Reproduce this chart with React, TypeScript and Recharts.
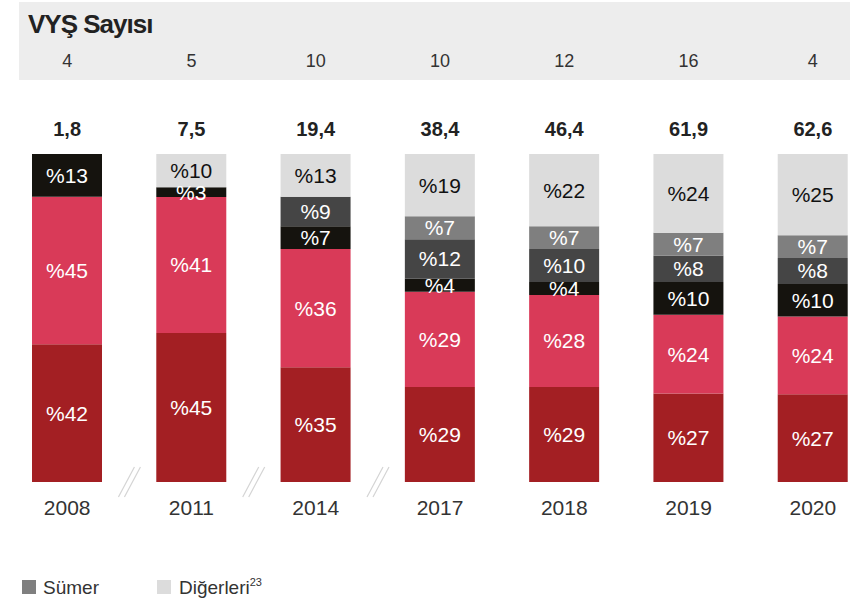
import React from "react";
import { BarChart, Bar, XAxis, YAxis, LabelList } from "recharts";

const years = ["2008", "2011", "2014", "2017", "2018", "2019", "2020"];
const vysCounts = [4, 5, 10, 10, 12, 16, 4];
const totals = [1.8, 7.5, 19.4, 38.4, 46.4, 61.9, 62.6];

// shares in %, bottom to top
const seg1 = [42, 45, 35, 29, 29, 27, 27];
const seg2 = [45, 41, 36, 29, 28, 24, 24];
const seg3 = [13, 3, 7, 4, 4, 10, 10];
const seg4 = [0, 0, 9, 12, 10, 8, 8];
const sumer = [0, 0, 0, 7, 7, 7, 7];
const digerleri = [0, 10, 13, 19, 22, 24, 25];

const data = years.map((year, i) => ({
  year,
  seg1: seg1[i],
  seg2: seg2[i],
  seg3: seg3[i],
  seg4: seg4[i],
  sumer: sumer[i],
  digerleri: digerleri[i],
}));

const FONT = '"Liberation Sans", Arial, Helvetica, sans-serif';
const HALF_BAND = 62;

const fmtPct = (v: any) => (v ? `%${v}` : "");

const YearTick = (props: any) => {
  const { x, payload } = props;
  const i = years.indexOf(payload.value);
  const m = x - HALF_BAND;
  return (
    <g>
      <text
        x={x}
        y={507}
        textAnchor="middle"
        dominantBaseline="central"
        fontSize={21}
        fontFamily={FONT}
        fill="#333"
      >
        {payload.value}
      </text>
      {i >= 1 && i <= 3 && (
        <g stroke="#d4d4d4" strokeWidth={1.2}>
          <line x1={m - 11} y1={497} x2={m + 5} y2={467} />
          <line x1={m - 5} y1={497} x2={m + 11} y2={467} />
        </g>
      )}
    </g>
  );
};

const TopTick = (props: any) => {
  const { x, payload } = props;
  const i = years.indexOf(payload.value);
  return (
    <g fontFamily={FONT}>
      <text x={x} y={61} textAnchor="middle" dominantBaseline="central" fontSize={18} fill="#333">
        {vysCounts[i]}
      </text>
      <text
        x={x}
        y={129}
        textAnchor="middle"
        dominantBaseline="central"
        fontSize={20}
        fontWeight="bold"
        fill="#222"
      >
        {totals[i].toFixed(1).replace(".", ",")}
      </text>
    </g>
  );
};

const series = [
  { key: "seg1", color: "#a31f23", text: "#fff" },
  { key: "seg2", color: "#d93a58", text: "#fff" },
  { key: "seg3", color: "#15130e", text: "#fff" },
  { key: "seg4", color: "#454545", text: "#fff" },
  { key: "sumer", color: "#7f7f7f", text: "#fff" },
  { key: "digerleri", color: "#dcdcdc", text: "#111" },
];

export default function App() {
  return (
    <div
      style={{
        position: "fixed",
        top: 0,
        left: 0,
        width: 865,
        height: 602,
        overflow: "hidden",
        background: "#fff",
      }}
    >
      <svg width={865} height={602} style={{ position: "absolute", top: 0, left: 0 }}>
        <rect x={19} y={2} width={831} height={78} fill="#ededed" />
        <text
          x={28}
          y={33}
          fontFamily={FONT}
          fontWeight="bold"
          fontSize={26}
          letterSpacing={-1}
          fill="#222"
        >
          VYŞ Sayısı
        </text>
        <rect x={22} y={580} width={14} height={14} fill="#7f7f7f" />
        <text x={43} y={594} fontFamily={FONT} fontSize={19} fill="#333">
          Sümer
        </text>
        <rect x={157} y={580} width={14} height={14} fill="#dcdcdc" />
        <text x={179} y={594} fontFamily={FONT} fontSize={19} fill="#333">
          Diğerleri
          <tspan fontSize={11} dy={-8}>
            23
          </tspan>
        </text>
      </svg>
      <div style={{ position: "absolute", top: 0, left: 0 }}>
        <BarChart
          width={880}
          height={602}
          data={data}
          stackOffset="expand"
          barSize={70}
          margin={{ top: 54, right: 5, bottom: 60, left: 5 }}
        >
          <XAxis
            xAxisId="bottom"
            dataKey="year"
            orientation="bottom"
            height={60}
            axisLine={false}
            tickLine={false}
            interval={0}
            tick={<YearTick />}
          />
          <XAxis
            xAxisId="top"
            dataKey="year"
            orientation="top"
            height={100}
            axisLine={false}
            tickLine={false}
            interval={0}
            tick={<TopTick />}
          />
          <YAxis hide domain={[0, 1]} />
          {series.map((s) => (
            <Bar
              key={s.key}
              dataKey={s.key}
              xAxisId="bottom"
              stackId="a"
              fill={s.color}
              isAnimationActive={false}
            >
              <LabelList
                dataKey={s.key}
                position="center"
                formatter={fmtPct}
                fill={s.text}
                fontSize={21}
                fontFamily={FONT}
              />
            </Bar>
          ))}
        </BarChart>
      </div>
    </div>
  );
}
